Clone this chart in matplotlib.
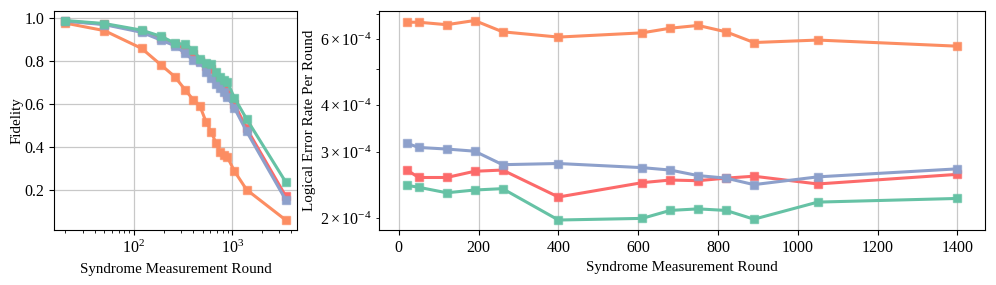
import matplotlib
matplotlib.use("Agg")
import matplotlib.pyplot as plt

plt.rcParams['font.family'] = ['Liberation Serif', 'DejaVu Serif']
plt.rcParams['mathtext.fontset'] = 'stix'

rounds_fid = [20, 50, 120, 190, 260, 330, 400, 470, 540, 610, 680, 750, 820, 890, 1050, 1400, 3500]
fid_red = [0.985, 0.970, 0.938, 0.905, 0.878, 0.855, 0.830, 0.800, 0.775, 0.760, 0.720, 0.700, 0.680, 0.645, 0.600, 0.485, 0.170]
fid_orange = [0.975, 0.940, 0.857, 0.779, 0.726, 0.666, 0.619, 0.588, 0.517, 0.470, 0.419, 0.377, 0.361, 0.353, 0.287, 0.200, 0.059]
fid_blue = [0.984, 0.968, 0.932, 0.895, 0.870, 0.835, 0.804, 0.796, 0.749, 0.718, 0.694, 0.675, 0.655, 0.631, 0.581, 0.471, 0.153]
fid_green = [0.987, 0.973, 0.942, 0.913, 0.882, 0.876, 0.851, 0.807, 0.788, 0.784, 0.749, 0.722, 0.710, 0.702, 0.628, 0.529, 0.236]

rounds_err = [20, 50, 120, 190, 260, 400, 610, 680, 750, 820, 890, 1050, 1400]
err_red = [2.69e-4, 2.57e-4, 2.57e-4, 2.67e-4, 2.69e-4, 2.28e-4, 2.49e-4, 2.53e-4, 2.52e-4, 2.56e-4, 2.59e-4, 2.47e-4, 2.62e-4]
err_orange = [6.66e-4, 6.66e-4, 6.56e-4, 6.73e-4, 6.28e-4, 6.08e-4, 6.24e-4, 6.42e-4, 6.53e-4, 6.28e-4, 5.88e-4, 5.97e-4, 5.75e-4]
err_blue = [3.17e-4, 3.09e-4, 3.06e-4, 3.02e-4, 2.78e-4, 2.80e-4, 2.73e-4, 2.69e-4, 2.60e-4, 2.56e-4, 2.46e-4, 2.58e-4, 2.71e-4]
err_green = [2.45e-4, 2.42e-4, 2.34e-4, 2.38e-4, 2.40e-4, 1.98e-4, 2.00e-4, 2.10e-4, 2.12e-4, 2.10e-4, 1.99e-4, 2.21e-4, 2.26e-4]

colors = {'red': '#fc6a6a', 'orange': '#fc8d62', 'blue': '#8da0cb', 'green': '#66c2a5'}

FS = 10.8
TS = 11.5

fig = plt.figure(figsize=(9.96, 2.85), dpi=100)
ax1 = fig.add_axes([0.0545, 0.193, 0.2434, 0.770])
ax2 = fig.add_axes([0.3808, 0.193, 0.6081, 0.770])

style = dict(marker='s', lw=2.2, ms=6, markeredgewidth=1.0)

for key, data in [('red', fid_red), ('orange', fid_orange), ('blue', fid_blue), ('green', fid_green)]:
    ax1.plot(rounds_fid, data, color=colors[key], markeredgecolor=colors[key] + 'aa', **style)
ax1.set_xscale('log')
ax1.grid(True, which='major', color='#c8c8c8', lw=0.9)
ax1.set_axisbelow(True)
ax1.set_xlabel('Syndrome Measurement Round', fontsize=FS)
ax1.set_ylabel('Fidelity', fontsize=FS)
ax1.yaxis.set_label_coords(-0.125, 0.5)
ax1.set_yticks([0.2, 0.4, 0.6, 0.8, 1.0])
ax1.tick_params(labelsize=TS)

for key, data in [('red', err_red), ('orange', err_orange), ('blue', err_blue), ('green', err_green)]:
    ax2.plot(rounds_err, data, color=colors[key], markeredgecolor=colors[key] + 'aa', **style)
ax2.set_yscale('log')
ax2.grid(True, which='major', color='#c8c8c8', lw=0.9)
ax2.set_axisbelow(True)
ax2.set_xticks([0, 200, 400, 600, 800, 1000, 1200, 1400])
ax2.set_xlabel('Syndrome Measurement Round', fontsize=FS)
ax2.set_ylabel('Logical Error Rate Per Round', fontsize=FS)
ax2.yaxis.set_label_coords(-0.105, 0.5)
ax2.tick_params(axis='x', labelsize=TS)
ax2.tick_params(axis='y', which='both', labelsize=11.5)

fig.savefig('out.png', dpi=100)
